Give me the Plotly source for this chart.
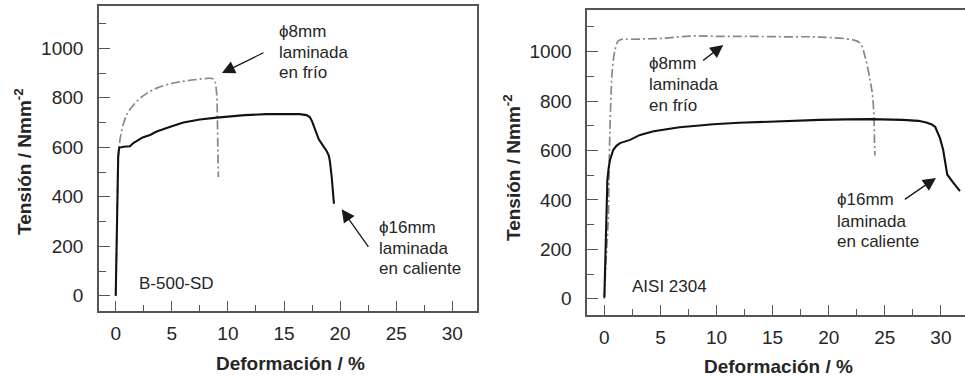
import plotly.graph_objects as go

# ---------------- data ----------------
# Left panel: B-500-SD
b500_hot_x = [0, 0.08, 0.15, 0.22, 0.3, 0.7, 1.27, 1.57, 2.4, 3.06, 3.65, 4.55, 5.0, 6.03, 7.5, 9.0, 10.2, 11.5, 13.4, 15.0, 16.4, 17.0, 17.3, 17.5, 17.75, 17.9, 18.1, 18.5, 18.8, 19.0, 19.1, 19.25, 19.45]
b500_hot_y = [0, 200, 400, 560, 598, 602, 604, 617, 640, 650, 664, 676, 685, 700, 712, 720, 726, 730, 734, 734, 734, 730, 722, 705, 672, 650, 632, 605, 585, 566, 540, 480, 372]

b500_cold_x = [0, 0.08, 0.15, 0.22, 0.3, 0.38, 0.55, 0.83, 1.1, 1.57, 2.1, 2.76, 3.6, 4.55, 5.4, 6.33, 7.4, 8.4, 8.7, 8.85, 8.95, 9.02, 9.06, 9.1, 9.15]
b500_cold_y = [0, 200, 400, 560, 600, 630, 672, 715, 742, 770, 795, 818, 838, 853, 862, 869, 875, 879, 876, 865, 840, 800, 723, 600, 480]

# Right panel: AISI 2304
aisi_hot_x = [0, 0.08, 0.15, 0.27, 0.4, 0.51, 0.8, 1.1, 1.4, 2.29, 3.18, 4.4, 5.26, 6.7, 8.24, 9.7, 12.0, 15.65, 19.2, 21.6, 23.7, 26.6, 28.0, 28.7, 29.2, 29.5, 29.92, 30.2, 30.45, 30.57, 31.1, 31.7]
aisi_hot_y = [5, 160, 320, 482, 535, 563, 603, 620, 630, 643, 663, 678, 684, 694, 700, 706, 712, 719, 724, 726, 727, 724, 720, 713, 705, 695, 650, 603, 522, 502, 470, 436]

aisi_cold_x = [0, 0.15, 0.3, 0.36, 0.45, 0.57, 0.71, 0.95, 1.25, 1.6, 2.29, 4.0, 5.26, 7.64, 10.0, 12.7, 16.0, 19.2, 22.2, 22.8, 23.24, 23.68, 23.92, 24.04, 24.08, 24.12]
aisi_cold_y = [0, 150, 280, 334, 590, 792, 926, 1007, 1044, 1050, 1050, 1052, 1054, 1063, 1062, 1062, 1060, 1059, 1047, 1034, 980, 886, 818, 724, 640, 580]

x_ticks = [0, 5, 10, 15, 20, 25, 30]
y_ticks = [0, 200, 400, 600, 800, 1000]

x_title = "<b>Deformación / %</b>"
y_title = "<b>Tensión / Nmm<sup>-2</sup></b>"

left_label = "B-500-SD"
right_label = "AISI 2304"
cold_label = ["ϕ8mm", "laminada", "en frío"]
hot_label = ["ϕ16mm", "laminada", "en caliente"]

# ---------------- styling ----------------
FONT = "Liberation Sans, Arial, sans-serif"
TXT = "#262626"
AX = "#555555"
BLACK = "#121212"
GRAY = "#878787"
DASH = "9px,3px,2px,3px"

fig = go.Figure()

def add_pair(hx, hy, cx, cy, xa, ya):
    fig.add_trace(go.Scatter(x=cx, y=cy, mode="lines", xaxis=xa, yaxis=ya,
                             line=dict(color=GRAY, width=1.7, dash=DASH),
                             line_shape="spline", hoverinfo="skip"))
    fig.add_trace(go.Scatter(x=hx, y=hy, mode="lines", xaxis=xa, yaxis=ya,
                             line=dict(color=BLACK, width=2.1),
                             line_shape="linear", hoverinfo="skip"))

add_pair(b500_hot_x, b500_hot_y, b500_cold_x, b500_cold_y, "x", "y")
add_pair(aisi_hot_x, aisi_hot_y, aisi_cold_x, aisi_cold_y, "x2", "y2")

def xaxis_cfg(domain, rng, anchor, standoff):
    return dict(domain=domain, range=rng, anchor=anchor, tickvals=x_ticks,
                ticks="inside", ticklen=10, tickwidth=1.3, tickcolor=AX,
                minor=dict(dtick=2.5, tick0=0, ticks="inside", ticklen=6, tickwidth=1.3, tickcolor=AX),
                showline=True, linecolor=AX, linewidth=1.6, mirror=True,
                showgrid=False, zeroline=False, ticklabelstandoff=standoff,
                tickfont=dict(family=FONT, size=19, color=TXT))

def yaxis_cfg(domain, rng, anchor, mirror):
    return dict(domain=domain, range=rng, anchor=anchor, tickvals=y_ticks,
                ticks="inside", ticklen=11, tickwidth=1.3, tickcolor=AX,
                minor=dict(dtick=100, tick0=0, ticks="inside", ticklen=7, tickwidth=1.3, tickcolor=AX),
                showline=True, linecolor=AX, linewidth=1.6, mirror=mirror,
                showgrid=False, zeroline=False, ticklabelstandoff=10,
                tickfont=dict(family=FONT, size=19, color=TXT))

W, H = 965, 377
fig.update_layout(
    width=W, height=H, margin=dict(l=0, r=0, t=0, b=0),
    paper_bgcolor="white", plot_bgcolor="white", showlegend=False,
    xaxis=xaxis_cfg([99 / W, 477 / W], [-1.49, 32.2], "y", 5),
    yaxis=yaxis_cfg([1 - 310.5 / H, 1 - 6 / H], [-59.5, 1171], "x", True),
    xaxis2=xaxis_cfg([587.3 / W, 1.0], [-1.52, 32.15], "y2", 5),
    yaxis2=yaxis_cfg([1 - 314.5 / H, 1 - 10 / H], [-63.4, 1168.4], "x2", False),
)

ann = []
def txt(x, y, s, xr, yr, size=17):
    ann.append(dict(x=x, y=y, xref=xr, yref=yr, text=s, showarrow=False,
                    xanchor="left", yanchor="middle",
                    font=dict(family=FONT, size=size, color=TXT)))

def arrow(hx, hy, tx, ty, xr, yr):
    ann.append(dict(x=hx, y=hy, ax=tx, ay=ty, xref=xr, yref=yr, axref=xr, ayref=yr,
                    text="", showarrow=True, arrowhead=2, arrowsize=2.0,
                    arrowwidth=1.3, arrowcolor="#1a1a1a", standoff=0, startstandoff=0))

# left panel labels
for line, yv in zip(cold_label, [1066, 984, 901]):
    txt(14.4, yv, line, "x", "y")
for line, yv in zip(hot_label, [276, 191, 110]):
    txt(23.26, yv, line, "x", "y")
txt(1.9, 50, left_label, "x", "y")
arrow(9.47, 900, 13.3, 985, "x", "y")
arrow(20.14, 350, 22.62, 192, "x", "y")

# right panel labels
for line, yv in zip(cold_label, [954, 866, 781]):
    txt(3.78, yv, line, "x2", "y2")
for line, yv in zip(hot_label, [401, 313, 233]):
    txt(20.56, yv, line, "x2", "y2")
txt(2.29, 50, right_label, "x2", "y2")
arrow(10.6, 1027, 8.68, 960, "x2", "y2")
arrow(29.56, 489, 26.65, 398, "x2", "y2")

# axis titles (placed as annotations)
def title(xp, yp, s, angle=0):
    ann.append(dict(x=xp / W, y=1 - yp / H, xref="paper", yref="paper", text=s,
                    showarrow=False, xanchor="center", yanchor="middle", textangle=angle,
                    font=dict(family=FONT, size=19, color=TXT)))

title(290, 363, x_title)
title(778, 366, x_title)
title(23, 162, y_title, -90)
title(512, 168, y_title, -90)

fig.update_layout(annotations=ann)
fig.write_html("out.html")
